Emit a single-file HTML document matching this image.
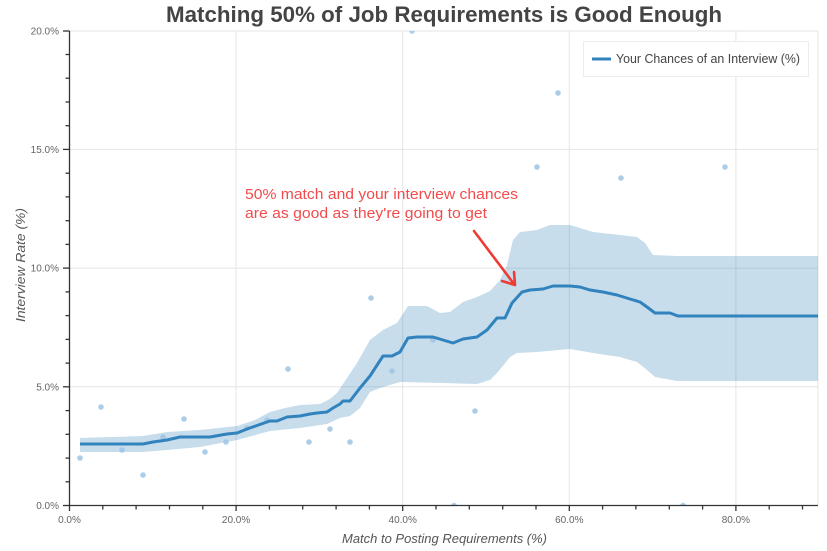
<!DOCTYPE html>
<html>
<head>
<meta charset="utf-8">
<style>
  html,body{margin:0;padding:0;background:#fff;}
  svg{display:block;}
  text{font-family:"Liberation Sans",sans-serif;}
</style>
</head>
<body>
<svg width="827" height="551" viewBox="0 0 827 551" xmlns="http://www.w3.org/2000/svg">
  <defs>
    <clipPath id="plot"><rect x="69.5" y="31" width="748.5" height="474.5"/></clipPath>
  </defs>
  <rect x="0" y="0" width="827" height="551" fill="#fff"/>

  <!-- Title -->
  <text x="444" y="22" text-anchor="middle" font-size="22" font-weight="bold" fill="#444" textLength="556" lengthAdjust="spacingAndGlyphs">Matching 50% of Job Requirements is Good Enough</text>

  <!-- grid -->
  <g stroke="#e4e4e4" stroke-width="1" fill="none">
    <line x1="236.1" y1="31" x2="236.1" y2="505"/>
    <line x1="402.7" y1="31" x2="402.7" y2="505"/>
    <line x1="569.3" y1="31" x2="569.3" y2="505"/>
    <line x1="735.9" y1="31" x2="735.9" y2="505"/>
    <line x1="818" y1="31" x2="818" y2="505"/>
    <line x1="69.5" y1="31" x2="818" y2="31"/>
    <line x1="69.5" y1="149.4" x2="818" y2="149.4"/>
    <line x1="69.5" y1="268.1" x2="818" y2="268.1"/>
    <line x1="69.5" y1="386.8" x2="818" y2="386.8"/>
  </g>

  <g clip-path="url(#plot)">
    <!-- confidence band -->
    <path fill="rgb(31,119,180)" fill-opacity="0.25" stroke="none" d="
      M80,438 L143,436 L167,432 L200,430 L237,426 L255,420 L270,412 L285,408 L300,405 L320,404 L330,399 L337,393 L343,384 L357,363 L370,340 L383,330 L397,323 L408,306 L427,306 L440,313 L450,312 L463,302 L477,297 L490,291 L500,280 L507,265 L513,240 L520,232 L537,230 L550,225 L570,225 L593,232 L620,235 L637,237 L645,243 L653,255 L677,256 L818,256
      L818,381 L677,381 L655,377 L647,370 L637,362 L620,357 L593,353 L570,349 L537,352 L517,353 L510,357 L497,373 L490,380 L477,384 L443,383 L400,382 L390,385 L380,388 L370,392 L360,408 L350,416 L340,418 L327,424 L300,428 L270,431 L237,440 L200,447 L167,450 L143,452 L80,452 Z"/>

    <!-- scatter points -->
    <g fill="#9ec4e4" fill-opacity="0.85">
      <circle cx="80" cy="458" r="2.8"/>
      <circle cx="101" cy="407" r="2.8"/>
      <circle cx="122" cy="450" r="2.8"/>
      <circle cx="143" cy="475" r="2.8"/>
      <circle cx="163" cy="437" r="2.8"/>
      <circle cx="184" cy="419" r="2.8"/>
      <circle cx="205" cy="452" r="2.8"/>
      <circle cx="226" cy="442" r="2.8"/>
      <circle cx="247" cy="428" r="2.8"/>
      <circle cx="267" cy="420" r="2.8"/>
      <circle cx="288" cy="369" r="2.8"/>
      <circle cx="309" cy="442" r="2.8"/>
      <circle cx="330" cy="429" r="2.8"/>
      <circle cx="350" cy="442" r="2.8"/>
      <circle cx="371" cy="298" r="2.8"/>
      <circle cx="392" cy="371" r="2.8"/>
      <circle cx="412" cy="31" r="2.8"/>
      <circle cx="433" cy="340" r="2.8"/>
      <circle cx="454" cy="505.5" r="2.8"/>
      <circle cx="475" cy="411" r="2.8"/>
      <circle cx="537" cy="167" r="2.8"/>
      <circle cx="558" cy="93" r="2.8"/>
      <circle cx="621" cy="178" r="2.8"/>
      <circle cx="683" cy="505.5" r="2.8"/>
      <circle cx="725" cy="167" r="2.8"/>
    </g>

    <!-- main line -->
    <polyline fill="none" stroke="#3182bd" stroke-width="3" stroke-linejoin="round" points="
      80,444 143,444 153,442 167,440 180,437 210,437 227,434 237,433 247,429 267,422 270,421 277,421 287,417 300,416 310,414 317,413 327,412 333,408 340,404 343,401 350,401 360,388 370,376 383,356 392,356 400,352 408,338 417,337 433,337 453,343 463,339 477,337 487,330 497,318 505,318 512,303 522,292 530,290 543,289 553,286 570,286 580,287 590,290 603,292 617,295 630,299 640,302 647,307 655,313 670,313 678,316 818,316"/>
  </g>

  <!-- axes -->
  <g stroke="#333" stroke-width="1.3" fill="none">
    <line x1="69.5" y1="31" x2="69.5" y2="506"/>
    <line x1="69" y1="505.5" x2="818" y2="505.5"/>
    <!-- x major ticks -->
    <line x1="69.5" y1="505.5" x2="69.5" y2="511"/>
    <line x1="236.1" y1="505.5" x2="236.1" y2="511"/>
    <line x1="402.7" y1="505.5" x2="402.7" y2="511"/>
    <line x1="569.3" y1="505.5" x2="569.3" y2="511"/>
    <line x1="735.9" y1="505.5" x2="735.9" y2="511"/>
    <!-- x minor ticks -->
    <line x1="102.8" y1="505.5" x2="102.8" y2="509.5"/>
    <line x1="136.1" y1="505.5" x2="136.1" y2="509.5"/>
    <line x1="169.5" y1="505.5" x2="169.5" y2="509.5"/>
    <line x1="202.8" y1="505.5" x2="202.8" y2="509.5"/>
    <line x1="269.4" y1="505.5" x2="269.4" y2="509.5"/>
    <line x1="302.7" y1="505.5" x2="302.7" y2="509.5"/>
    <line x1="336.1" y1="505.5" x2="336.1" y2="509.5"/>
    <line x1="369.4" y1="505.5" x2="369.4" y2="509.5"/>
    <line x1="436.0" y1="505.5" x2="436.0" y2="509.5"/>
    <line x1="469.3" y1="505.5" x2="469.3" y2="509.5"/>
    <line x1="502.7" y1="505.5" x2="502.7" y2="509.5"/>
    <line x1="536.0" y1="505.5" x2="536.0" y2="509.5"/>
    <line x1="602.6" y1="505.5" x2="602.6" y2="509.5"/>
    <line x1="635.9" y1="505.5" x2="635.9" y2="509.5"/>
    <line x1="669.3" y1="505.5" x2="669.3" y2="509.5"/>
    <line x1="702.6" y1="505.5" x2="702.6" y2="509.5"/>
    <line x1="769.2" y1="505.5" x2="769.2" y2="509.5"/>
    <line x1="802.5" y1="505.5" x2="802.5" y2="509.5"/>
    <!-- y major ticks -->
    <line x1="63" y1="505.5" x2="69.5" y2="505.5"/>
    <line x1="63" y1="386.8" x2="69.5" y2="386.8"/>
    <line x1="63" y1="268.1" x2="69.5" y2="268.1"/>
    <line x1="63" y1="149.4" x2="69.5" y2="149.4"/>
    <line x1="63" y1="31" x2="69.5" y2="31"/>
    <!-- y minor ticks -->
    <line x1="65.5" y1="481.8" x2="69.5" y2="481.8"/>
    <line x1="65.5" y1="458.1" x2="69.5" y2="458.1"/>
    <line x1="65.5" y1="434.3" x2="69.5" y2="434.3"/>
    <line x1="65.5" y1="410.6" x2="69.5" y2="410.6"/>
    <line x1="65.5" y1="363.1" x2="69.5" y2="363.1"/>
    <line x1="65.5" y1="339.4" x2="69.5" y2="339.4"/>
    <line x1="65.5" y1="315.6" x2="69.5" y2="315.6"/>
    <line x1="65.5" y1="291.9" x2="69.5" y2="291.9"/>
    <line x1="65.5" y1="244.4" x2="69.5" y2="244.4"/>
    <line x1="65.5" y1="220.7" x2="69.5" y2="220.7"/>
    <line x1="65.5" y1="196.9" x2="69.5" y2="196.9"/>
    <line x1="65.5" y1="173.2" x2="69.5" y2="173.2"/>
    <line x1="65.5" y1="125.7" x2="69.5" y2="125.7"/>
    <line x1="65.5" y1="102.0" x2="69.5" y2="102.0"/>
    <line x1="65.5" y1="78.2" x2="69.5" y2="78.2"/>
    <line x1="65.5" y1="54.5" x2="69.5" y2="54.5"/>
  </g>

  <!-- y tick labels -->
  <g font-size="10" fill="#666" text-anchor="end">
    <text x="59" y="509">0.0%</text>
    <text x="59" y="390.3">5.0%</text>
    <text x="59" y="271.6">10.0%</text>
    <text x="59" y="152.9">15.0%</text>
    <text x="59" y="34.5">20.0%</text>
  </g>
  <!-- x tick labels -->
  <g font-size="10" fill="#666" text-anchor="middle">
    <text x="69.5" y="523">0.0%</text>
    <text x="236.1" y="523">20.0%</text>
    <text x="402.7" y="523">40.0%</text>
    <text x="569.3" y="523">60.0%</text>
    <text x="735.9" y="523">80.0%</text>
  </g>

  <!-- axis titles -->
  <text x="444.5" y="543" text-anchor="middle" font-size="13" font-style="italic" fill="#555" textLength="205" lengthAdjust="spacingAndGlyphs">Match to Posting Requirements (%)</text>
  <text transform="translate(25,265) rotate(-90)" text-anchor="middle" font-size="13" font-style="italic" fill="#555" textLength="114" lengthAdjust="spacingAndGlyphs">Interview Rate (%)</text>

  <!-- annotation -->
  <g font-size="15" fill="#f24b4b">
    <text x="245" y="199" textLength="273" lengthAdjust="spacingAndGlyphs">50% match and your interview chances</text>
    <text x="245" y="218" textLength="242" lengthAdjust="spacingAndGlyphs">are as good as they're going to get</text>
  </g>
  <g stroke="#ee3b35" stroke-width="2.6" fill="none" stroke-linecap="round" stroke-linejoin="round">
    <line x1="474" y1="231" x2="514" y2="284"/>
    <polyline points="502,281 515,285 514,272"/>
  </g>

  <!-- legend -->
  <rect x="583.5" y="41.5" width="225" height="35" fill="#fff" stroke="#ececec" stroke-width="1"/>
  <line x1="592" y1="59" x2="611" y2="59" stroke="#3182bd" stroke-width="3"/>
  <text x="616" y="63" font-size="13" fill="#444" textLength="184" lengthAdjust="spacingAndGlyphs">Your Chances of an Interview (%)</text>
</svg>
</body>
</html>
